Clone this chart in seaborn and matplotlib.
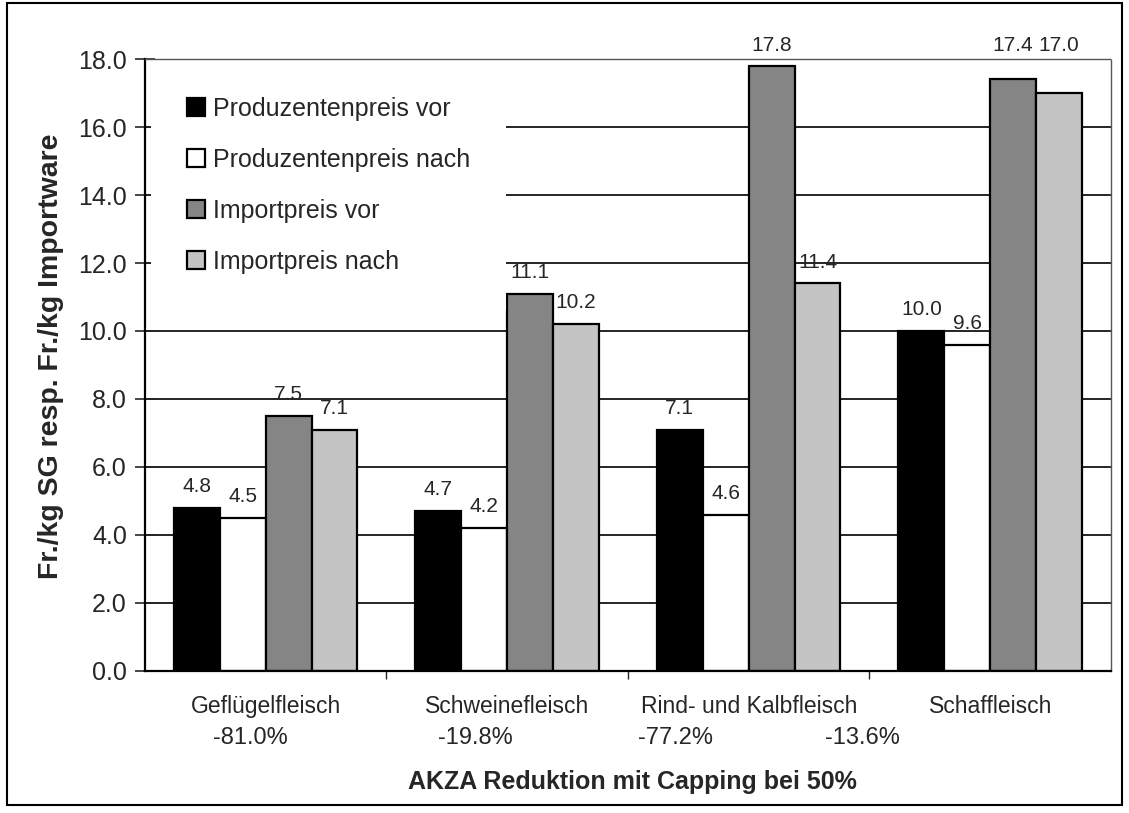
import matplotlib
matplotlib.use("Agg")
import matplotlib.pyplot as plt
from matplotlib.patches import Patch, Rectangle
from matplotlib.ticker import MultipleLocator, FixedLocator, FormatStrFormatter
import matplotlib.transforms as mtransforms
import pandas as pd
import seaborn as sns

categories = ["Geflügelfleisch", "Schweinefleisch", "Rind- und Kalbfleisch", "Schaffleisch"]
series = ["Produzentenpreis vor", "Produzentenpreis nach", "Importpreis vor", "Importpreis nach"]
prod_vor = [4.8, 4.7, 7.1, 10.0]
prod_nach = [4.5, 4.2, 4.6, 9.6]
import_vor = [7.5, 11.1, 17.8, 17.4]
import_nach = [7.1, 10.2, 11.4, 17.0]
reductions = ["-81.0%", "-19.8%", "-77.2%", "-13.6%"]
reduction_x = [-0.065, 0.867, 1.695, 2.469]
colors = ["#000000", "#ffffff", "#858585", "#c4c4c4"]

rows = []
for s, vals in zip(series, [prod_vor, prod_nach, import_vor, import_nach]):
    for c, v in zip(categories, vals):
        rows.append({"Kategorie": c, "Serie": s, "Wert": v})
df = pd.DataFrame(rows)

sns.set_theme(style="white")
plt.rcParams["font.family"] = ["Liberation Sans", "DejaVu Sans"]

fig = plt.figure(figsize=(11.29, 8.13), dpi=100)
ax = fig.add_axes([0.1284, 0.1747, 0.8556, 0.7527])

sns.barplot(data=df, x="Kategorie", y="Wert", hue="Serie", order=categories,
            hue_order=series, palette=colors, width=0.76, gap=0,
            edgecolor="black", linewidth=1.6, saturation=1, ax=ax,
            legend=False, errorbar=None)

YMAX = 18
LABEL_CEIL = 18.25  # highest baseline for value labels (just above the plot frame)
for container in ax.containers:
    for bar in container:
        h = bar.get_height()
        xc = bar.get_x() + bar.get_width() / 2
        if h >= 17:
            ax.text(xc, LABEL_CEIL, f"{h:.1f}", ha="center", va="baseline",
                    fontsize=15, clip_on=False)
        else:
            ax.annotate(f"{h:.1f}", (xc, h), xytext=(0, 8.5), textcoords="offset points",
                        ha="center", va="bottom", fontsize=15, clip_on=False)

ax.set_ylim(0, YMAX)
ax.set_xlim(-0.5, 3.5)
ax.yaxis.set_major_locator(MultipleLocator(2))
ax.yaxis.set_major_formatter(FormatStrFormatter("%.1f"))
ax.grid(axis="y", color="black", linewidth=1.2)
ax.grid(axis="x", visible=False)
ax.set_axisbelow(True)

ax.tick_params(axis="y", direction="inout", length=14, width=1.2, labelsize=18, pad=6, left=True)
ax.tick_params(axis="x", which="major", length=0, labelsize=16.5, pad=17)
ax.xaxis.set_minor_locator(FixedLocator([0.5, 1.5, 2.5]))
ax.tick_params(axis="x", which="minor", direction="out", length=6, width=1.0, bottom=True)

for side in ["left", "bottom"]:
    ax.spines[side].set_color("black")
    ax.spines[side].set_linewidth(1.6)
for side in ["top", "right"]:
    ax.spines[side].set_color("#555555")
    ax.spines[side].set_linewidth(1.0)
    ax.spines[side].set_linestyle((0, (2, 1)))

ax.set_ylabel("Fr./kg SG resp. Fr./kg Importware", fontsize=20.5, fontweight="bold", va="center")
ax.yaxis.set_label_coords(-0.097, 0.515)
ax.set_xlabel("AKZA Reduktion mit Capping bei 50%", fontsize=18, fontweight="bold", va="center")
ax.xaxis.set_label_coords(0.505, -0.181)

# reduction percentages under the category names
trans = mtransforms.blended_transform_factory(ax.transData, ax.transAxes)
for xv, txt in zip(reduction_x, reductions):
    ax.text(xv, -0.1095, txt, transform=trans, ha="center", va="center", fontsize=17)

handles = [Patch(facecolor=c, edgecolor="black", linewidth=1.6) for c in colors]
leg = ax.legend(handles, series, loc="upper left", bbox_to_anchor=(0.006, 0.997),
                frameon=True, facecolor="white", edgecolor="none", framealpha=1,
                fontsize=18, handlelength=0.72, handleheight=0.72, handletextpad=0.3,
                labelspacing=1.08, borderpad=1.45, borderaxespad=0, fancybox=False)
leg.set_zorder(2.4)

fig.patches.append(Rectangle((0.0062, 0.0098), 0.9876, 0.9865, transform=fig.transFigure,
                             fill=False, edgecolor="black", linewidth=1.5))

fig.savefig("out.png", dpi=100, facecolor="white")
